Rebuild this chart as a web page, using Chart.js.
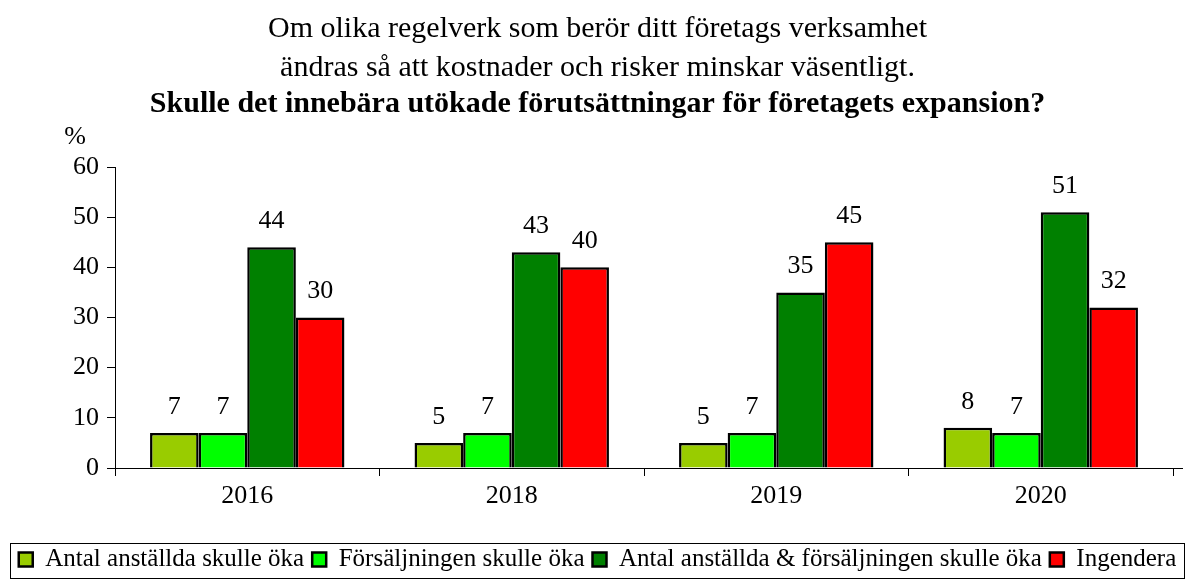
<!DOCTYPE html>
<html>
<head>
<meta charset="utf-8">
<script src="https://cdn.jsdelivr.net/npm/chart.js@4"></script>
<style>
  html, body { margin: 0; padding: 0; background: #fff; }
</style>
</head>
<body>
<canvas id="chart" width="1192" height="582"></canvas>
<script>
const years = ['2016', '2018', '2019', '2020'];
const seriesNames = [
  'Antal anställda skulle öka',
  'Försäljningen skulle öka',
  'Antal anställda & försäljningen skulle öka',
  'Ingendera'
];
const antalAnstallda = [7, 5, 5, 8];
const forsaljningen = [7, 7, 7, 7];
const bada = [44, 43, 35, 51];
const ingendera = [30, 40, 45, 32];
const seriesColors = ['#99CC00', '#00FF00', '#008000', '#FF0000'];
const titleLines = [
  'Om olika regelverk som berör ditt företags verksamhet',
  'ändras så att kostnader och risker minskar väsentligt.'
];
const subtitleText = 'Skulle det innebära utökade förutsättningar för företagets expansion?';

const FONT = "'Liberation Serif', 'Times New Roman', serif";

// values above the bars, plus the "%" unit and the legend frame
const extrasPlugin = {
  id: 'extras',
  afterDatasetsDraw(chart) {
    const c = chart.ctx;
    c.save();
    c.font = '26px ' + FONT;
    c.fillStyle = '#000';
    c.textAlign = 'center';
    c.textBaseline = 'middle';
    chart.data.datasets.forEach((ds, i) => {
      chart.getDatasetMeta(i).data.forEach((bar, j) => {
        c.fillText(ds.data[j], bar.x, bar.y - 26);
      });
    });
    c.restore();
  },
  afterDraw(chart) {
    const c = chart.ctx;
    const area = chart.chartArea;
    c.save();
    c.font = '26px ' + FONT;
    c.fillStyle = '#000';
    c.textAlign = 'center';
    c.textBaseline = 'middle';
    c.fillText('%', area.left - 40, area.top - 30);

    c.strokeStyle = '#000';
    c.lineWidth = 1;
    c.beginPath();
    c.moveTo(area.left - 8, area.bottom + 0.5);
    c.lineTo(area.right + 10, area.bottom + 0.5);
    c.stroke();

    // legend frame, 35px high around the legend row
    const lg = chart.legend;
    const mid = Math.round(lg.top + lg.height / 2);
    c.strokeRect(lg.left + 0.5, mid - 17.5, lg.width - 1, 35);
    c.restore();
  }
};

const datasets = [antalAnstallda, forsaljningen, bada, ingendera].map((vals, i) => ({
  label: seriesNames[i],
  data: vals,
  backgroundColor: seriesColors[i],
  borderColor: '#000',
  borderWidth: 2.5,
  borderSkipped: 'bottom',
  categoryPercentage: 0.735,
  barPercentage: 1,
  yAxisID: 'y'
}));

new Chart(document.getElementById('chart'), {
  type: 'bar',
  data: { labels: years, datasets: datasets },
  options: {
    responsive: false,
    animation: false,
    layout: { padding: { left: 10, right: 7, top: 0, bottom: 0 } },
    plugins: {
      title: {
        display: true,
        text: titleLines,
        color: '#000',
        font: { family: FONT, size: 30, weight: 'normal', lineHeight: 1.3 },
        padding: { top: 10, bottom: 0 }
      },
      subtitle: {
        display: true,
        text: subtitleText,
        color: '#000',
        font: { family: FONT, size: 30, weight: 'bold', lineHeight: 1.1 },
        padding: { top: 0, bottom: 46 }
      },
      legend: {
        position: 'bottom',
        labels: {
          color: '#000',
          font: { family: FONT, size: 25 },
          boxWidth: 14,
          boxHeight: 14,
          padding: 8
        }
      },
      tooltip: { enabled: false }
    },
    scales: {
      x: {
        grid: {
          offset: true,
          drawOnChartArea: false,
          drawTicks: true,
          tickLength: 8,
          color: '#000'
        },
        border: { display: false },
        ticks: {
          color: '#000',
          font: { family: FONT, size: 26 },
          padding: 5
        },
        afterFit(scale) { scale.height = 71; }
      },
      y: {
        min: 0,
        max: 60,
        grid: {
          drawOnChartArea: false,
          drawTicks: true,
          tickLength: 8,
          color: '#000'
        },
        border: { color: '#000', width: 1 },
        ticks: {
          stepSize: 10,
          color: '#000',
          font: { family: FONT, size: 26 },
          padding: 8
        },
        afterFit(scale) { scale.width = 105; }
      },
      y2: {
        position: 'right',
        display: true,
        grid: { display: false },
        border: { display: false },
        ticks: { display: false },
        afterFit(scale) { scale.width = 12; }
      }
    }
  },
  plugins: [extrasPlugin]
});
</script>
</body>
</html>
